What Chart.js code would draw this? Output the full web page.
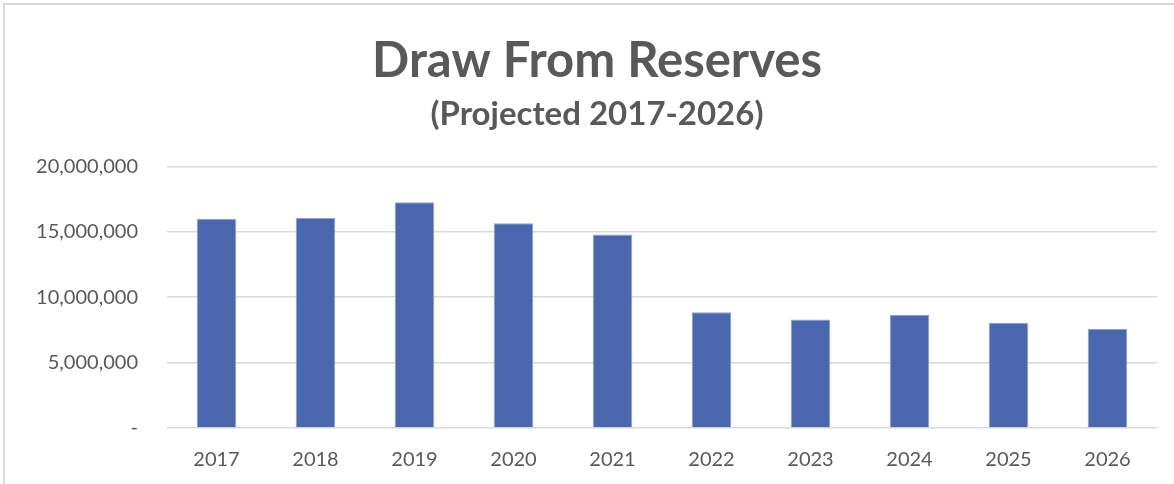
<!DOCTYPE html>
<html>
<head>
<meta charset="utf-8">
<script src="https://cdn.jsdelivr.net/npm/chart.js@4"></script>
<style>
  html, body { margin: 0; padding: 0; background: #fff; }
  #wrap { position: relative; width: 1174px; height: 484px; }
  #frame { position: absolute; left: 3px; top: 3px; width: 1180px; height: 500px;
           border: 2px solid #d9d9d9; box-sizing: border-box; pointer-events: none; }
  canvas { position: absolute; left: 0; top: 0; }
</style>
</head>
<body>
<div id="wrap">
  <canvas id="grafico" width="1174" height="484"></canvas>
  <div id="frame"></div>
</div>
<script>
const years = ['2017', '2018', '2019', '2020', '2021', '2022', '2023', '2024', '2025', '2026'];
const drawAmounts = [16000000, 16050000, 17250000, 15650000, 14800000, 8850000, 8300000, 8650000, 8050000, 7580000];
const yTicks = [0, 5000000, 10000000, 15000000, 20000000];

const TEXT = '#595959';
const FONT = "Lato, 'Open Sans', sans-serif";

function fmt(v) {
  return v === 0 ? '-' : v.toLocaleString('en-US');
}

const ctx = document.getElementById('grafico').getContext('2d');
new Chart(ctx, {
  type: 'bar',
  data: {
    labels: years,
    datasets: [{
      data: drawAmounts,
      backgroundColor: '#4a67ad',
      borderColor: '#8ea3d2',
      borderWidth: { top: 1, left: 1, right: 1, bottom: 0 },
      barPercentage: 0.4,
      categoryPercentage: 1
    }]
  },
  options: {
    responsive: false,
    animation: false,
    // titles sit a bit right of canvas centre, so pad left more than right
    layout: { padding: { left: 37, right: 17, top: 32, bottom: 0 } },
    plugins: {
      legend: { display: false },
      tooltip: { enabled: false },
      title: {
        display: true,
        text: 'Draw From Reserves',
        color: TEXT,
        font: { family: FONT, size: 49, weight: 'bold' },
        padding: { top: 0, bottom: 4 }
      },
      subtitle: {
        display: true,
        text: '(Projected 2017-2026)',
        color: TEXT,
        font: { family: FONT, size: 33, weight: 'bold' },
        padding: { top: 0, bottom: 32 }
      }
    },
    scales: {
      x: {
        grid: { display: false },
        border: { display: false },
        ticks: { color: TEXT, font: { family: FONT, size: 20 }, padding: 12 }
      },
      y: {
        min: 0,
        max: 20000000,
        afterBuildTicks: (scale) => { scale.ticks = yTicks.map(v => ({ value: v })); },
        afterFit: (scale) => { scale.width = 130; },
        grid: { color: '#d9d9d9', lineWidth: 1.5, drawTicks: false },
        border: { display: false },
        ticks: {
          color: TEXT,
          font: { family: FONT, size: 20 },
          padding: 29,
          callback: (v) => fmt(v)
        }
      }
    }
  }
});
</script>
</body>
</html>
